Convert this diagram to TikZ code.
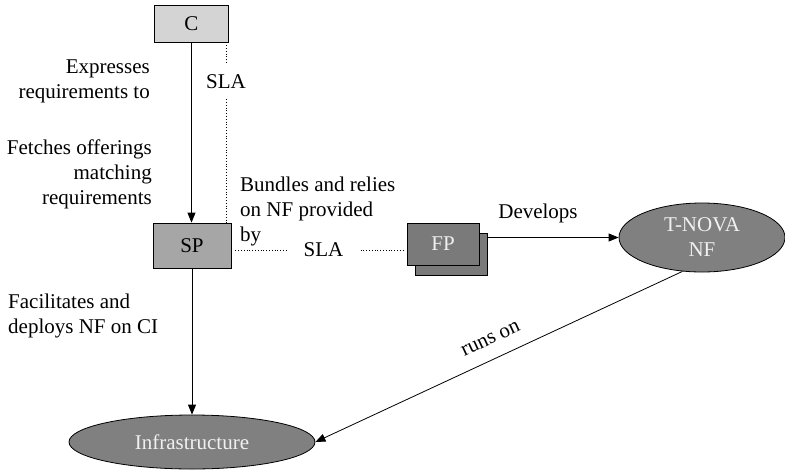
\documentclass[tikz,border=0pt]{standalone}
\usepackage{fontspec}
\setmainfont{Liberation Serif}
\usetikzlibrary{arrows.meta,shapes.geometric}
\definecolor{roleC}{RGB}{212,212,212}
\definecolor{roleSP}{RGB}{166,166,166}
\definecolor{roleFP}{RGB}{122,122,122}
\definecolor{nfgray}{RGB}{128,128,128}

\begin{document}
\begin{tikzpicture}[x=1pt, y=-1pt,
		txt/.style={font=\rmfamily\fontsize{21}{25}\selectfont, inner sep=0pt},
		role/.style={draw, line width=0.8pt, txt},
		blob/.style={ellipse, draw, line width=0.8pt, fill=nfgray, text=white!94!black, txt, align=center},
		arr/.style={line width=0.8pt, -{Triangle[length=10pt,width=8pt]}},
		sla/.style={dotted, line width=0.8pt}]
			%%%%% START %%%%%
			\useasboundingbox (0,0) rectangle (785,472);
			
			% actors
			\node[role, fill=roleC, minimum width=74pt, minimum height=37pt] (C) at (191.5, 23.5) {C};
			\node[role, fill=roleSP, minimum width=78pt, minimum height=45pt] (SP) at (192, 245.5) {SP};
			\node[role, fill=roleFP, minimum width=72pt, minimum height=42pt] (fpback) at (451, 254) {};
			\node[role, fill=roleFP, minimum width=72pt, minimum height=42pt, text=white!94!black] (FP) at (443, 244) {FP};
			
			\node[blob, minimum width=166pt, minimum height=69pt] (tnova) at (702, 237.5) {T-NOVA\\NF};
			\node[blob, minimum width=246pt, minimum height=54pt] (infra) at (192, 442) {Infrastructure};
			
			% SLA links
			\node[txt, inner ysep=10pt] (sla1) at (226, 82) {SLA};
			\draw[sla] (sla1 |- C.south) -- (sla1.north);
			\draw[sla] (sla1.south) -- (sla1 |- SP.north);
			
			\node[txt, inner xsep=17pt] (sla2) at (323.5, 250) {SLA};
			\draw[sla, shorten <=4pt] (SP.east |- sla2) -- (sla2.west);
			\draw[sla, shorten >=4pt] (sla2.east) -- (FP.west |- sla2);
			
			% relations
			\draw[arr] (C.south) -- (C.south |- SP.north);
			\draw[arr] (SP.south) -- (SP.south |- infra.north);
			\draw[arr] (fpback.east |- tnova.west) -- (tnova.west);
			\draw[arr] (tnova.240) -- node[txt, sloped, above=14pt] (runs) {runs on} (infra.east);
			
			% labels
			\node[txt, anchor=east, align=right] (expr) at (150, 81) {Expresses\\requirements to};
			\node[txt, anchor=east, align=right] (fetch) at (152, 174) {Fetches offerings\\matching\\requirements};
			\node[txt, anchor=west, align=left] (bundle) at (240, 211) {Bundles and relies\\on NF provided\\by};
			\node[txt, anchor=west, align=left] (facil) at (8, 316) {Facilitates and\\deploys NF on CI};
			\node[txt] (dev) at (538, 213) {Develops};
			
			%%%%% END %%%%%
		\end{tikzpicture}
\end{document}
